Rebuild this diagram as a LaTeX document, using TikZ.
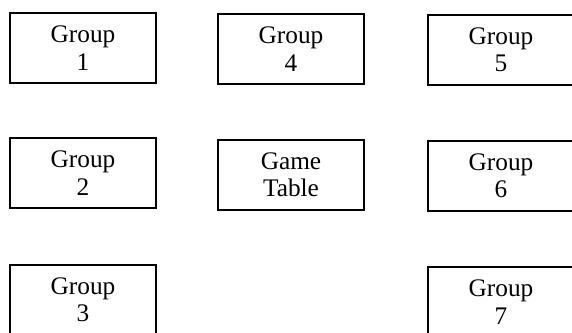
\documentclass[tikz,border=0pt]{standalone}
\usepackage{fontspec}
\setmainfont{Liberation Serif}
\usetikzlibrary{positioning}

\begin{document}
\begin{tikzpicture}[every node/.style={font=\fontsize{18}{19.5}\selectfont},
  grp/.style={draw,line width=1.4pt,minimum width=3.65cm,minimum height=1.75cm,align=center,inner sep=0pt}]
\useasboundingbox (0,0) rectangle (14.3,8.325);
\node[grp] (g1) at (2.075,7.125) {Group\\1};
\node[grp] (g4) at (7.275,7.100) {Group\\4};
\node[grp] (g5) at (12.525,7.075) {Group\\5};
\node[grp] (g2) at (2.075,4.000) {Group\\2};
\node[grp] (gt) at (7.275,3.950) {Game\\Table};
\node[grp] (g6) at (12.525,3.925) {Group\\6};
\node[grp] (g3) at (2.075,0.825) {Group\\3};
\node[grp] (g7) at (12.525,0.775) {Group\\7};
\end{tikzpicture}
\end{document}
